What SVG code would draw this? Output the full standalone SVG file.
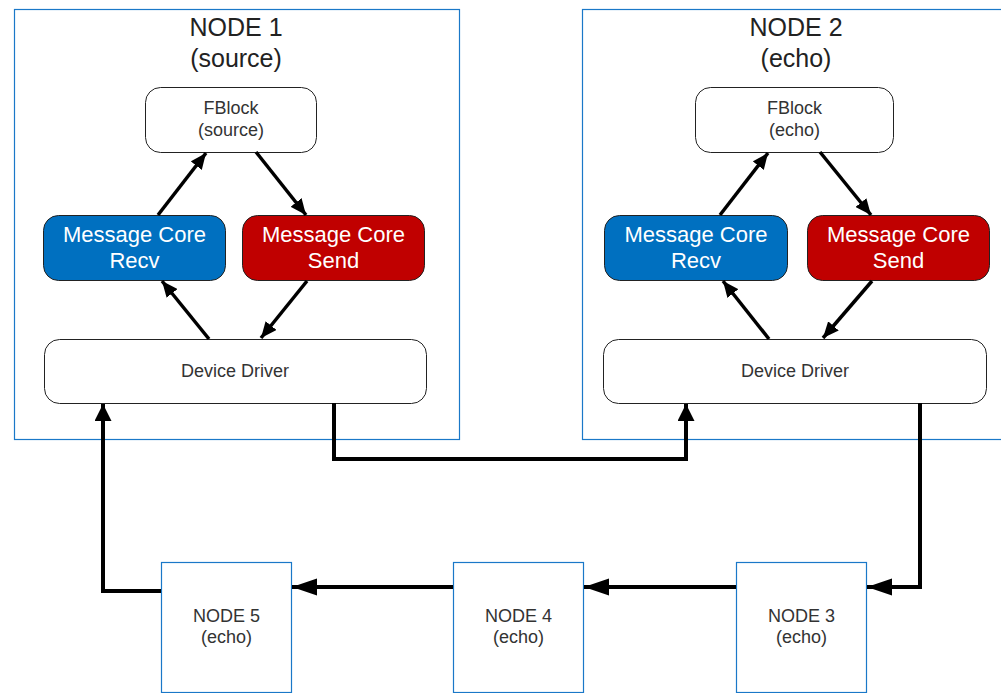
<svg xmlns="http://www.w3.org/2000/svg" width="1001" height="693" viewBox="0 0 1001 693">
<style>
.container{fill:#fff;stroke:#1a78c8;stroke-width:1.2}
.box{fill:#fff;stroke:#222;stroke-width:1}
.recv{fill:#0070C0;stroke:#222;stroke-width:1}
.send{fill:#C00000;stroke:#222;stroke-width:1}
.small{fill:#fff;stroke:#1a78c8;stroke-width:1.2}
.title{font-family:"Liberation Sans",Arial,sans-serif;font-size:25px;fill:#222;text-anchor:middle}
.lbl{font-family:"Liberation Sans",Arial,sans-serif;font-size:18px;fill:#333;text-anchor:middle}
.core{font-family:"Liberation Sans",Arial,sans-serif;font-size:22px;fill:#fff;text-anchor:middle}
.in{fill:none;stroke:#000;stroke-width:3.5;marker-end:url(#ai)}
.out{fill:none;stroke:#000;stroke-width:4}
</style>
<defs>
<marker id="ai" markerUnits="userSpaceOnUse" markerWidth="18" markerHeight="14" refX="16" refY="7" orient="auto"><path d="M0,0 L16,7 L0,14 z" fill="#000"/></marker>
<marker id="ah" markerUnits="userSpaceOnUse" markerWidth="26" markerHeight="18" refX="25" refY="8.5" orient="auto"><path d="M0,0 L25,8.5 L0,17 z" fill="#000"/></marker>
<marker id="av" markerUnits="userSpaceOnUse" markerWidth="18" markerHeight="18" refX="17" refY="8.5" orient="auto"><path d="M0,0 L17,8.5 L0,17 z" fill="#000"/></marker>
</defs>
<rect width="1001" height="693" fill="#fff"/>

<g id="node1">
<rect class="container" x="14.5" y="9.5" width="445" height="430"/>
<text class="title" x="236" y="36">NODE 1</text>
<text class="title" x="236" y="67">(source)</text>
</g>
<g id="fblock1">
<rect class="box" x="145.5" y="87.5" width="171" height="65" rx="15"/>
<text class="lbl" x="231" y="114">FBlock</text>
<text class="lbl" x="231" y="136">(source)</text>
</g>
<g id="recv1">
<rect class="recv" x="43.5" y="215.5" width="182" height="65" rx="15"/>
<text class="core" x="134.5" y="242">Message Core</text>
<text class="core" x="134.5" y="268">Recv</text>
</g>
<g id="send1">
<rect class="send" x="242.5" y="215.5" width="182" height="65" rx="15"/>
<text class="core" x="333.5" y="242">Message Core</text>
<text class="core" x="333.5" y="268">Send</text>
</g>
<g id="dd1">
<rect class="box" x="44.5" y="339.5" width="382" height="64" rx="15"/>
<text class="lbl" x="235" y="377">Device Driver</text>
</g>

<g id="node2">
<rect class="container" x="582.5" y="9.5" width="430" height="430"/>
<text class="title" x="796" y="36">NODE 2</text>
<text class="title" x="796" y="67">(echo)</text>
</g>
<g id="fblock2">
<rect class="box" x="695.5" y="87.5" width="198" height="65" rx="15"/>
<text class="lbl" x="794.5" y="114">FBlock</text>
<text class="lbl" x="794.5" y="136">(echo)</text>
</g>
<g id="recv2">
<rect class="recv" x="604.5" y="215.5" width="183" height="65" rx="15"/>
<text class="core" x="696" y="242">Message Core</text>
<text class="core" x="696" y="268">Recv</text>
</g>
<g id="send2">
<rect class="send" x="807.5" y="215.5" width="182" height="65" rx="15"/>
<text class="core" x="898.5" y="242">Message Core</text>
<text class="core" x="898.5" y="268">Send</text>
</g>
<g id="dd2">
<rect class="box" x="603.5" y="339.5" width="383" height="64" rx="15"/>
<text class="lbl" x="795" y="377">Device Driver</text>
</g>

<g id="node3">
<rect class="small" x="736.5" y="562.5" width="130" height="130"/>
<text class="lbl" x="801.5" y="622">NODE 3</text>
<text class="lbl" x="801.5" y="643">(echo)</text>
</g>
<g id="node4">
<rect class="small" x="453.5" y="562.5" width="130" height="130"/>
<text class="lbl" x="518.5" y="622">NODE 4</text>
<text class="lbl" x="518.5" y="643">(echo)</text>
</g>
<g id="node5">
<rect class="small" x="161.5" y="562.5" width="130" height="130"/>
<text class="lbl" x="226.5" y="622">NODE 5</text>
<text class="lbl" x="226.5" y="643">(echo)</text>
</g>

<g id="connectors">
<path class="in" d="M158,215 L206,153"/>
<path class="in" d="M256,152 L306,215"/>
<path class="in" d="M209,339 L162,281"/>
<path class="in" d="M307,281 L261,338"/>
<path class="in" d="M720,215 L768,153"/>
<path class="in" d="M820,152 L871,215"/>
<path class="in" d="M769,339 L723,281"/>
<path class="in" d="M872,281 L823,338"/>
<path class="out" d="M334,403 V459 H686 V404" marker-end="url(#av)"/>
<path class="out" d="M920,403 V587 H867" marker-end="url(#ah)"/>
<path class="out" d="M736,587 H584" marker-end="url(#ah)"/>
<path class="out" d="M453,587 H292" marker-end="url(#ah)"/>
<path class="out" d="M161,591 H103 V404" marker-end="url(#av)"/>
</g>
</svg>
